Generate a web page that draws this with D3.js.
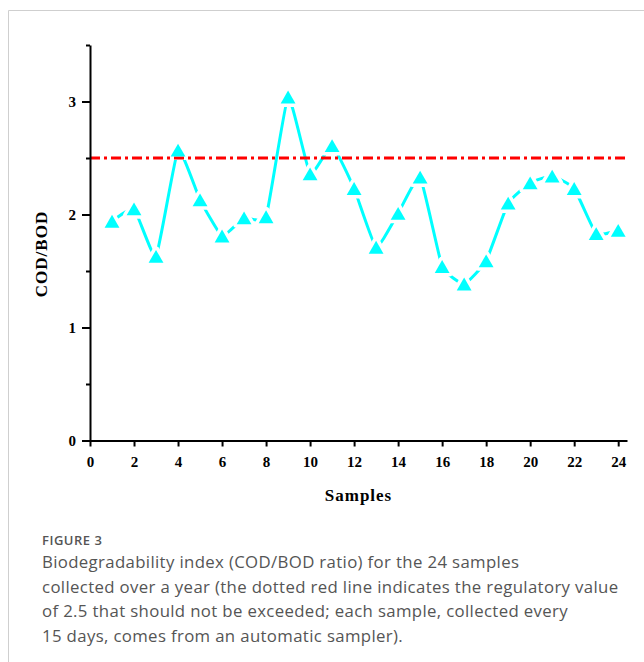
<!DOCTYPE html>
<html>
<head>
<meta charset="utf-8">
<script src="https://cdn.jsdelivr.net/npm/d3@7"></script>
<style>
  body { margin: 0; background: #fff; }
  svg { display: block; }
</style>
</head>
<body>
<svg width="644" height="662"></svg>
<script>
// data
const samples = [1, 2, 3, 4, 5, 6, 7, 8, 9, 10, 11, 12, 13, 14, 15, 16, 17, 18, 19, 20, 21, 22, 23, 24];
const codBod = [1.94, 2.05, 1.63, 2.57, 2.13, 1.81, 1.97, 1.98, 3.04, 2.36, 2.61, 2.23,
                1.71, 2.01, 2.33, 1.54, 1.385, 1.59, 2.10, 2.28, 2.34, 2.23, 1.83, 1.86];
const regulatoryLimit = 2.5;
const xTicks = [0, 2, 4, 6, 8, 10, 12, 14, 16, 18, 20, 22, 24];
const yMajorTicks = [0, 1, 2, 3];
const yMinorTicks = [0.5, 1.5, 2.5, 3.5];
const captionTitle = "FIGURE 3";
const captionLines = [
  "Biodegradability index (COD/BOD ratio) for the 24 samples",
  "collected over a year (the dotted red line indicates the regulatory value",
  "of 2.5 that should not be exceeded; each sample, collected every",
  "15 days, comes from an automatic sampler)."
];

const svg = d3.select("svg");

// card border
svg.append("path")
  .attr("d", "M8.5,662 V10.5 H644")
  .attr("fill", "none")
  .attr("stroke", "#cfcfcf")
  .attr("stroke-width", 1);

let x = d3.scaleLinear().domain([0, 24.4]).range([90, 627]);
let y = d3.scaleLinear().domain([0, 3.5]).range([440.5, 45]);

let data = samples.map((s, i) => ({ s: s, v: codBod[i] }));

// smooth connecting line
let line = d3.line()
  .x(d => x(d.s))
  .y(d => y(d.v))
  .curve(d3.curveCardinal.tension(0.6));

svg.append("path")
  .datum(data)
  .attr("fill", "none")
  .attr("stroke", "#00ffff")
  .attr("stroke-width", 3)
  .attr("d", line);

let tri = d3.symbol().type(d3.symbolTriangle).size(95);
let triOff = Math.sqrt(95 / (Math.sqrt(3) * 3)) / 2;

// white knock-outs so the line stops short of each marker
svg.append("g").selectAll("path")
  .data(data)
  .join("path")
  .attr("transform", d => `translate(${x(d.s)},${y(d.v) + triOff})`)
  .attr("d", tri)
  .attr("fill", "#fff")
  .attr("stroke", "#fff")
  .attr("stroke-width", 7)
  .attr("stroke-linejoin", "round");

// regulatory limit
svg.append("line")
  .attr("x1", x(0)).attr("x2", 625)
  .attr("y1", y(regulatoryLimit)).attr("y2", y(regulatoryLimit))
  .attr("stroke", "#ff0000")
  .attr("stroke-width", 3)
  .attr("stroke-dasharray", "10,4,3,4");

// markers
svg.append("g").selectAll("path")
  .data(data)
  .join("path")
  .attr("transform", d => `translate(${x(d.s)},${y(d.v) + triOff})`)
  .attr("d", tri)
  .attr("fill", "#00ffff");

// axes
let font = "'Liberation Serif', 'Times New Roman', serif";

let xAxis = svg.append("g")
  .attr("transform", `translate(0,${y(0)})`)
  .call(d3.axisBottom(x).tickValues(xTicks).tickSize(6).tickPadding(10).tickSizeOuter(0));

svg.append("g")
  .attr("transform", `translate(${x(0)},0)`)
  .call(d3.axisLeft(y).tickValues(yMinorTicks).tickSize(4).tickFormat("").tickSizeOuter(0))
  .call(g => g.select(".domain").remove());

let yAxis = svg.append("g")
  .attr("transform", `translate(${x(0)},0)`)
  .call(d3.axisLeft(y).tickValues(yMajorTicks).tickFormat(d3.format("d"))
    .tickSize(8).tickPadding(6).tickSizeOuter(0));

[xAxis, yAxis].forEach(g => {
  g.selectAll(".domain").attr("stroke-width", 2);
  g.selectAll("text")
    .attr("font-family", font)
    .attr("font-weight", "bold")
    .attr("font-size", 15)
    .attr("fill", "#000");
});
svg.selectAll(".tick line").attr("stroke-width", 2);

svg.append("text")
  .attr("x", (x(0) + 627) / 2)
  .attr("y", 501)
  .attr("text-anchor", "middle")
  .attr("font-family", font)
  .attr("font-weight", "bold")
  .attr("font-size", 17)
  .attr("letter-spacing", 1)
  .text("Samples");

svg.append("text")
  .attr("transform", "translate(47,254) rotate(-90)")
  .attr("text-anchor", "middle")
  .attr("font-family", font)
  .attr("font-weight", "bold")
  .attr("font-size", 17)
  .attr("letter-spacing", 1)
  .text("COD/BOD");

// caption
svg.append("text")
  .attr("x", 42).attr("y", 545)
  .attr("font-family", "'Open Sans', sans-serif")
  .attr("font-size", 13)
  .attr("font-weight", 600)
  .attr("letter-spacing", 0.5)
  .attr("fill", "#555")
  .text(captionTitle);

svg.append("g").selectAll("text")
  .data(captionLines)
  .join("text")
  .attr("x", 42)
  .attr("y", (d, i) => 568 + i * 24.5)
  .attr("font-family", "'Open Sans', sans-serif")
  .attr("font-size", 16.8)
  .attr("letter-spacing", 0.35)
  .attr("fill", "#555")
  .text(d => d);
</script>
</body>
</html>
